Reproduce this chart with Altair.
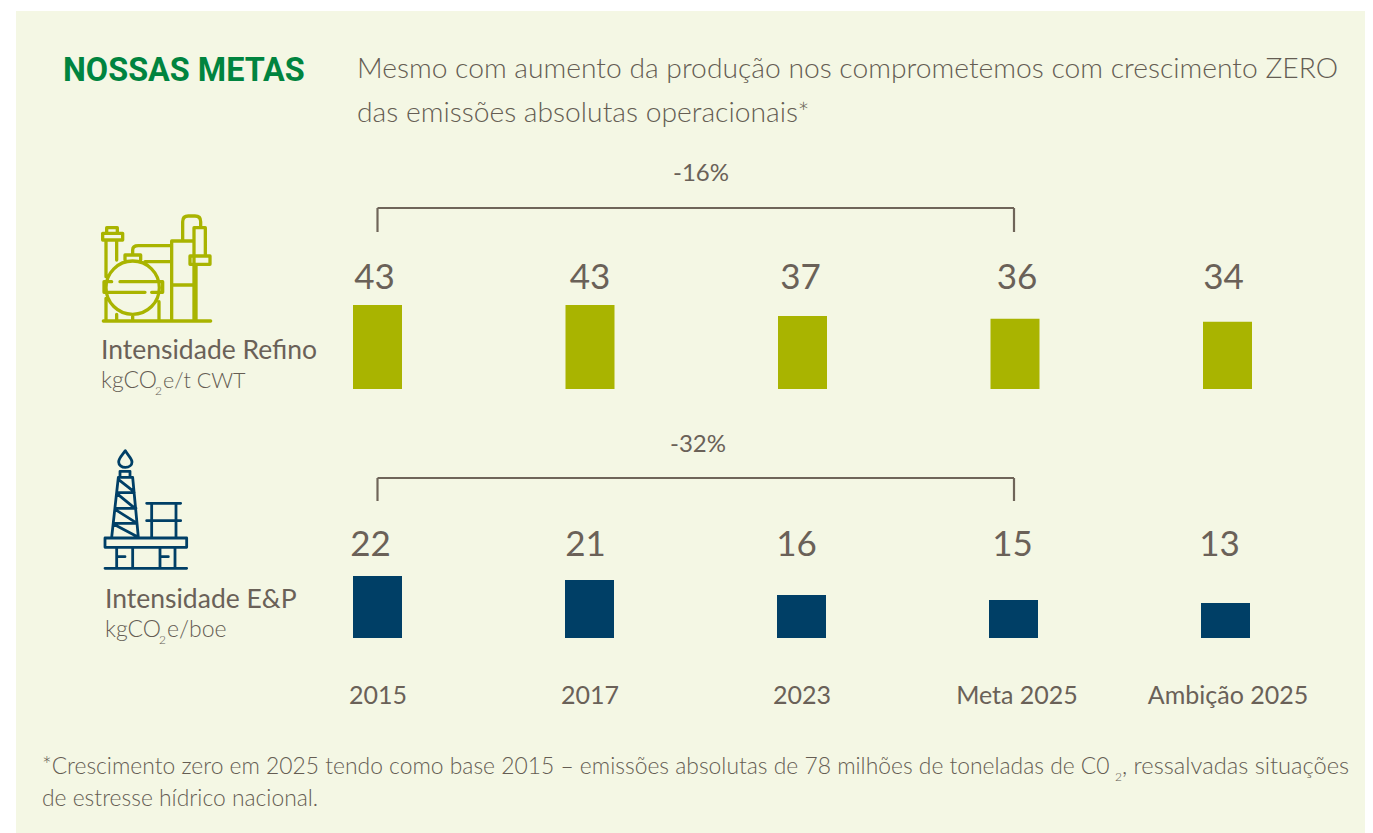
import altair as alt
import pandas as pd

PERIODS = ["2015", "2017", "2023", "Meta 2025", "Ambição 2025"]
REFINO_LABELS = ["43", "43", "37", "36", "34"]
REFINO_BARS = [43, 43, 37.4, 35.9, 34.4]
EP_LABELS = ["22", "21", "16", "15", "13"]
EP_BARS = [22, 20.6, 15.3, 13.5, 12.4]

TITLE = "NOSSAS METAS"
SUB1 = "Mesmo com aumento da produção nos comprometemos com crescimento ZERO"
SUB2 = "das emissões absolutas operacionais*"
FOOT1A = "*Crescimento zero em 2025 tendo como base 2015 – emissões absolutas de 78 milhões de toneladas de C0"
FOOT1B = ", ressalvadas situações"
FOOT2 = "de estresse hídrico nacional."

BG = "#f4f7e4"; GREEN = "#00843f"; OLIVE = "#a9b400"; NAVY = "#003f66"; TXT = "#6a6158"; TXT2 = "#655d53"; LINE = "#6f6559"
FONT = "Lato"

REFINERY = ("M50 85V68H82V85M38 85H98V105H38ZM48 105V215M80 105V165"
 "M48 248A80 80 0 1 0 208 248A80 80 0 1 0 48 248"
 "M90 230H218V262H185M165 262H42V230H65M105 165V150H152V165"
 "M128 150V135Q128 122 145 122H245M165 170H245M245 348V108H312V348M245 240H312"
 "M278 108V50Q278 33 295 33H315Q332 33 332 50V68M312 153V68H346V153M300 153H360V178H300ZM318 178V348"
 "M40 348H362M48 280V348M80 328V348M128 328V348M207 290V348")
RIG = ("M106 32C95 48 86 55 86 66C86 75 95 82 106 82C118 82 126 75 126 66C126 55 115 48 106 32Z"
 "M90 94H120V112H90ZM85 112L65 292M128 112L145 292M85 112H128M80 158H133M75 205H138M70 250H140"
 "M85 118L128 152M80 160L135 205M75 208L138 248M70 252L145 292"
 "M170 190H272M170 242H272M185 190V292M258 190V292M45 294H290V322H45Z"
 "M80 322V385M128 322V385M210 322V385M255 322V385M80 350H105M210 350H235M45 385H290")

one = pd.DataFrame({"a": [0]})
layers = []

def px(v):
    return v - 8

def text(s, x, y, size, color=TXT, weight=400, align="left", font=FONT):
    layers.append(alt.Chart(pd.DataFrame({"t": [s]})).mark_text(
        font=font, fontSize=size, fontWeight=weight, color=color, align=align, baseline="alphabetic"
    ).encode(text="t:N", x=alt.value(px(x)), y=alt.value(px(y))))

def rule(x1, y1, x2, y2):
    layers.append(alt.Chart(one).mark_rule(color=LINE, strokeWidth=2.2).encode(
        x=alt.value(px(x1)), x2=alt.value(px(x2)), y=alt.value(px(y1)), y2=alt.value(px(y2))))

def icon(path, x, y, color, sw):
    layers.append(alt.Chart(one).mark_point(shape=path, size=4/9, filled=False, stroke=color, strokeWidth=sw,
        opacity=1, strokeJoin="round", strokeCap="round").encode(x=alt.value(px(x)), y=alt.value(px(y))))

def bars(values, labels, color, x0, x1, y0, ytop, dmax, label_y, nudges):
    df = pd.DataFrame({"p": PERIODS, "v": values, "l": labels})
    xs = alt.Scale(type="point", domain=PERIODS, range=[px(x0), px(x1)], padding=0)
    ys = alt.Scale(domain=[0, dmax], range=[px(y0), px(ytop)], nice=False, zero=True)
    layers.append(alt.Chart(df).mark_bar(width=49, color=color, clip=False).encode(
        x=alt.X("p:N", scale=xs, axis=None, sort=PERIODS),
        y=alt.Y("v:Q", scale=ys, axis=None)))
    for i, n in enumerate(nudges):
        layers.append(alt.Chart(df.iloc[[i]]).mark_text(font=FONT, fontSize=35, fontWeight=400, color=TXT, dx=n, align="center",
            baseline="alphabetic").encode(x=alt.X("p:N", scale=xs, axis=None, sort=PERIODS), y=alt.value(px(label_y)), text="l:N"))

# panel
layers.append(alt.Chart(one).mark_rect(color=BG).encode(
    x=alt.value(px(16)), x2=alt.value(1357), y=alt.value(px(11)), y2=alt.value(825)))

text(TITLE, 63, 81, 32.4, GREEN, 700, font="Roboto")
text(SUB1, 357, 78, 28.25, TXT2, 300)
text(SUB2, 357, 122, 28.25, TXT2, 300)

text("-16%", 701, 181, 24, TXT, 400, "center")
rule(377.5, 208, 1014, 208); rule(377.5, 208, 377.5, 232); rule(1014, 208, 1014, 232)
text("-32%", 698, 452, 24, TXT, 400, "center")
rule(377.5, 478, 1014, 478); rule(377.5, 478, 377.5, 501); rule(1014, 478, 1014, 501)

icon(REFINERY, 90, 205, OLIVE, 3.3)
icon(RIG, 90, 440, NAVY, 2.8)

bars(REFINO_BARS, REFINO_LABELS, OLIVE, 377.5, 1227.5, 389, 305, 43, 289, [-3, 0, -2, 2, -4])
bars(EP_BARS, EP_LABELS, NAVY, 377.5, 1225.5, 638, 576, 22, 556, [-7, -4, -5, -1, -6])

text("Intensidade Refino", 101, 359, 26.5)
text("kgCO", 101, 388, 23, TXT2, 300)
text("2", 155, 395, 12, TXT2, 300)
text("e/t CWT", 163, 388, 21.5, TXT2, 300)
text("Intensidade E&P", 105, 608, 26.5)
text("kgCO", 105, 637, 23, TXT2, 300)
text("2", 159, 644, 12, TXT2, 300)
text("e/boe", 167, 637, 23, TXT2, 300)

for p, x in zip(PERIODS, [378, 590, 802, 1017, 1228]):
    text(p, x, 704, 25, TXT, 400, "center")

text(FOOT1A, 42, 774, 22.85, TXT2, 300)
text("2", 1115, 781, 12, TXT2, 300)
text(FOOT1B, 1122, 774, 23.7, TXT2, 300)
text(FOOT2, 42, 806, 22.85, TXT2, 300)

chart = alt.layer(*layers).resolve_scale(x="independent", y="independent").properties(
    width=1357, height=825, padding=0, autosize=alt.AutoSizeParams(type="none"), background="white"
).configure_view(stroke=None)

chart.save("out.html", embed_options={"renderer": "svg", "actions": False})
